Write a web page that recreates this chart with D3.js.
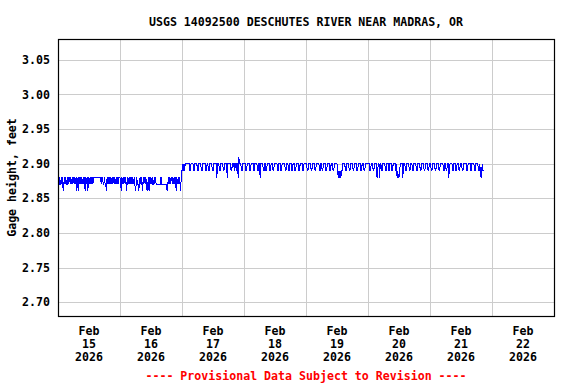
<!DOCTYPE html>
<html>
<head>
<meta charset="utf-8">
<script src="https://cdn.jsdelivr.net/npm/d3@7"></script>
<style>
  body { margin: 0; background: #fff; }
  svg { display: block; }
  text { font-family: "DejaVu Sans Mono", "Liberation Mono", monospace; font-weight: bold; font-size: 11.6px; }
</style>
</head>
<body>
<svg id="chart" width="576" height="384"></svg>
<script>
// 15-minute gage readings, one string per day, 8 readings (2 hours) per chunk.
// each digit = hundredths of a foot above 2.86 ft (0 -> 2.86, 4 -> 2.90)
var feb15 = ["31211212", "01212112", "12212121", "21212012", "02121212", "12021201",
             "21212212", "22222222", "22212211", "21102121", "21212121", "21212122"];
var feb16 = ["21021212", "12012121", "21212121", "01211012", "12102121", "21012021",
             "21211212", "11111112", "21111111", "10121212", "21212120", "21212103"];
var feb17 = ["34343444", "44443344", "44334444", "33444433", "44444334", "43344443",
             "34444424", "44334444", "33444424", "44443344", "43443442", "54443344"];
var feb18 = ["44433444", "43344443", "34444334", "42444433", "44334444", "33444334",
             "44443344", "43344444", "33444334", "44334443", "34444334", "44433444"];
var feb19 = ["44334444", "33444433", "44444334", "43344443", "34444334", "44334444",
             "43232323", "34444334", "44433444", "43344443", "34444334", "44334444"];
var feb20 = ["44433444", "33444423", "44244334", "44433444", "33444334", "44434232",
             "23444424", "44334444", "33444334", "44433444", "43344443", "34444334"];
var feb21 = ["44334444", "33444433", "44444334", "43344234", "44433444", "33444334",
             "44334444", "43344443", "34444334", "44433432", "3433"];

var days = [
  { date: "2026-02-15", chunks: feb15 },
  { date: "2026-02-16", chunks: feb16 },
  { date: "2026-02-17", chunks: feb17 },
  { date: "2026-02-18", chunks: feb18 },
  { date: "2026-02-19", chunks: feb19 },
  { date: "2026-02-20", chunks: feb20 },
  { date: "2026-02-21", chunks: feb21 }
];

var yTicks = [2.70, 2.75, 2.80, 2.85, 2.90, 2.95, 3.00, 3.05];
var xDomain = ["2026-02-15", "2026-02-23"];
var labelDays = ["2026-02-15", "2026-02-16", "2026-02-17", "2026-02-18",
                 "2026-02-19", "2026-02-20", "2026-02-21", "2026-02-22"];
var baseStage = 2.86;

var parse = d3.utcParse("%Y-%m-%d");
var data = [];
days.forEach(function(d) {
  var t0 = parse(d.date);
  d.chunks.join("").split("").forEach(function(c, i) {
    data.push({ t: d3.utcMinute.offset(t0, i * 15), v: baseStage + (+c) / 100 });
  });
});

var plotL = 58, plotR = 554, plotT = 39, plotB = 316;

var svg = d3.select("#chart");

var x = d3.scaleUtc()
    .domain(xDomain.map(parse))
    .range([plotL, plotR]);

var y = d3.scaleLinear()
    .domain([2.68, 3.08])
    .range([plotB, plotT]);

// grid
var grid = svg.append("g")
    .attr("stroke", "#cccccc")
    .attr("stroke-width", 1)
    .attr("shape-rendering", "crispEdges");

grid.selectAll(".gy")
    .data(yTicks)
  .enter().append("line")
    .attr("x1", plotL)
    .attr("x2", plotR)
    .attr("y1", function(d) { return Math.round(y(d)) + 0.5; })
    .attr("y2", function(d) { return Math.round(y(d)) + 0.5; });

grid.selectAll(".gx")
    .data(labelDays.slice(1).map(parse))
  .enter().append("line")
    .attr("x1", function(d) { return Math.round(x(d)) + 0.5; })
    .attr("x2", function(d) { return Math.round(x(d)) + 0.5; })
    .attr("y1", plotT)
    .attr("y2", plotB);

// data line
var line = d3.line()
    .x(function(d) { return x(d.t); })
    .y(function(d) { return y(d.v); });

svg.append("path")
    .datum(data)
    .attr("fill", "none")
    .attr("stroke", "#0000ff")
    .attr("stroke-width", 1)
    .attr("shape-rendering", "crispEdges")
    .attr("d", line);

// frame
svg.append("rect")
    .attr("x", plotL + 0.5)
    .attr("y", plotT + 0.5)
    .attr("width", plotR - plotL)
    .attr("height", plotB - plotT)
    .attr("fill", "none")
    .attr("stroke", "#000")
    .attr("stroke-width", 1.2);

// y axis labels
var yAxis = d3.axisLeft(y)
    .tickValues(yTicks)
    .tickFormat(d3.format(".2f"))
    .tickSize(0)
    .tickPadding(8);

svg.append("g")
    .attr("transform", "translate(" + plotL + ",0)")
    .call(yAxis)
    .call(function(g) { g.select(".domain").remove(); })
    .attr("font-family", null)
    .attr("font-size", null)
    .selectAll("text")
    .attr("fill", "#000");

// x axis labels, centred on noon of each day
var fmtMon = d3.utcFormat("%b"), fmtDay = d3.utcFormat("%d"), fmtYr = d3.utcFormat("%Y");
var xl = svg.append("g").attr("text-anchor", "middle").attr("fill", "#000");
xl.selectAll("text")
    .data(labelDays.map(parse))
  .enter().append("text")
    .attr("x", function(d) { return x(d3.utcHour.offset(d, 12)); })
    .attr("y", 335)
    .each(function(d) {
      var t = d3.select(this);
      t.append("tspan").attr("x", t.attr("x")).attr("y", 335).text(fmtMon(d));
      t.append("tspan").attr("x", t.attr("x")).attr("y", 348).text(fmtDay(d));
      t.append("tspan").attr("x", t.attr("x")).attr("y", 361).text(fmtYr(d));
    });

// title
svg.append("text")
    .attr("x", (plotL + plotR) / 2)
    .attr("y", 26)
    .attr("text-anchor", "middle")
    .text("USGS 14092500 DESCHUTES RIVER NEAR MADRAS, OR");

// y label
svg.append("text")
    .attr("transform", "translate(16," + (plotT + plotB) / 2 + ") rotate(-90)")
    .attr("text-anchor", "middle")
    .text("Gage height, feet");

// footer
svg.append("text")
    .attr("x", (plotL + plotR) / 2)
    .attr("y", 380)
    .attr("text-anchor", "middle")
    .attr("fill", "#ff0000")
    .text("---- Provisional Data Subject to Revision ----");
</script>
</body>
</html>
